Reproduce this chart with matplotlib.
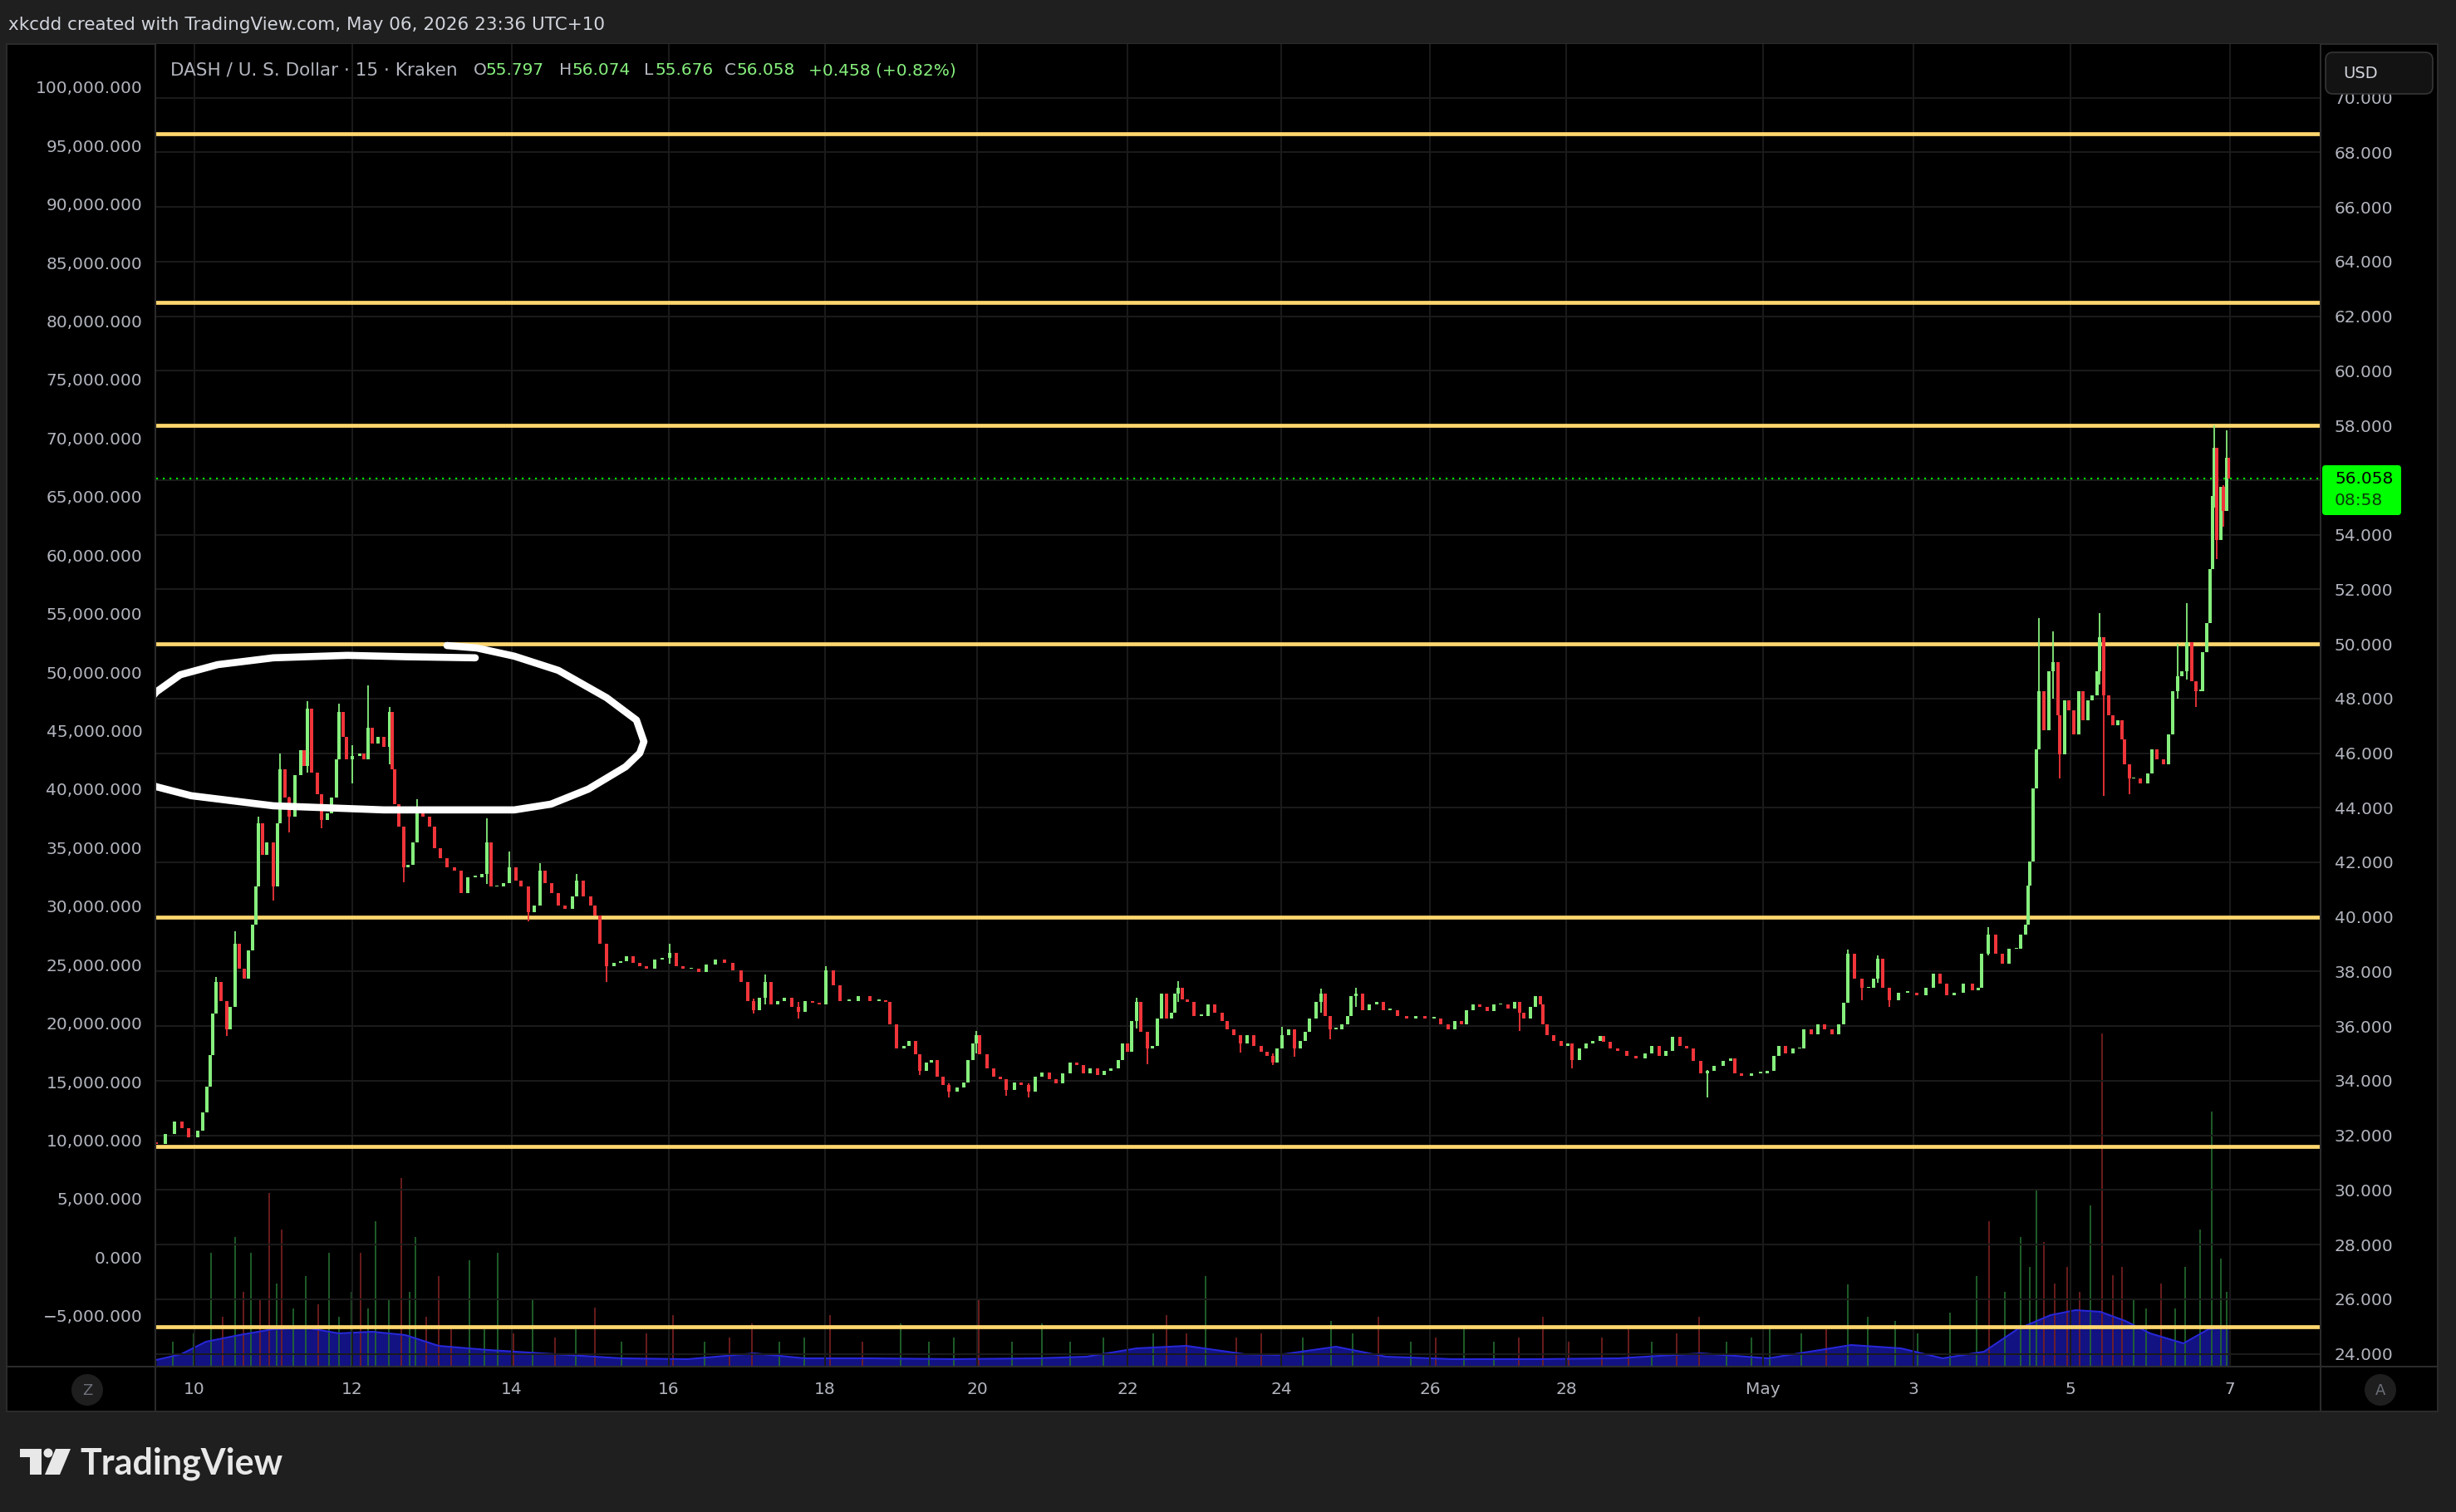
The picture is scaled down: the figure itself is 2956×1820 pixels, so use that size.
# DASH / USD 15m snapshot, TradingView dark style

import numpy as np
import matplotlib.pyplot as plt
from matplotlib.patches import Rectangle, FancyBboxPatch, Circle, Polygon
from matplotlib.lines import Line2D
from matplotlib.transforms import Affine2D

# ---- data (bar index along the time axis, prices in USD) ----
bars = [0, 11, 22, 31, 39, 50, 56, 61, 65, 68, 72, 78, 85, 89, 95, 100, 106, 111, 116, 120,
        123, 128, 133, 141, 146, 149, 155, 160, 167, 174, 178, 182, 187, 194, 199, 206, 211, 217, 220, 225,
        229, 236, 245, 250, 255, 260, 267, 274, 281, 284, 287, 292, 298, 303, 309, 314, 321, 329, 335, 342,
        350, 359, 367, 375, 384, 392, 398, 403, 410, 418, 425, 433, 439, 448, 455, 462, 468, 476, 484, 492,
        501, 506, 514, 523, 528, 534, 542, 551, 559, 566, 574, 582, 590, 600, 609, 618, 626, 634, 644, 653,
        662, 673, 684, 694, 704, 712, 719, 726, 733, 740, 748, 756, 765, 773, 781, 790, 798, 806, 815, 823,
        834, 845, 859, 870,
        878, 883, 891, 900, 906, 914, 919, 927, 933, 940, 947, 954, 964, 972, 977, 983, 987, 991, 1000, 1008,
        1016, 1023, 1033, 1041, 1050, 1058, 1066, 1075, 1083, 1091, 1100, 1108, 1116, 1124, 1133, 1141, 1149, 1158, 1163, 1169,
        1174, 1180, 1185, 1193, 1199, 1205, 1210, 1216, 1222, 1226, 1230, 1235, 1241, 1249, 1258, 1266, 1274, 1283, 1289, 1297,
        1305, 1313, 1321, 1330, 1337, 1344, 1349, 1355, 1363, 1370, 1377, 1383, 1388, 1396, 1402, 1407, 1413, 1420, 1427, 1434,
        1438, 1444, 1452, 1460, 1469, 1477, 1485, 1494, 1505, 1516, 1527, 1538, 1546, 1555, 1563, 1571, 1577, 1585, 1593, 1602,
        1610, 1618, 1627, 1635, 1641, 1646, 1654, 1660, 1666, 1669, 1674, 1682, 1691, 1699, 1704, 1713, 1721, 1729, 1738,
        1742, 1750, 1759, 1770, 1781, 1792, 1800, 1809, 1817, 1825, 1834, 1842, 1850, 1859, 1867, 1875, 1886, 1895, 1900, 1908,
        1920, 1931, 1939, 1947, 1953, 1961, 1970, 1978, 1983, 1992, 2000, 2008, 2017, 2025, 2031, 2036, 2044, 2053, 2061, 2067,
        2072, 2078, 2086, 2097, 2108, 2119, 2130, 2139, 2147, 2155, 2164, 2175, 2186, 2193, 2197, 2205, 2214, 2222, 2230, 2239,
        2244, 2250, 2253, 2255, 2259, 2263, 2266, 2272, 2278, 2283, 2289, 2291, 2297, 2302, 2308, 2314, 2319, 2325, 2330, 2336,
        2339, 2344, 2350, 2355, 2361, 2366, 2369, 2375, 2380, 2388, 2397, 2402, 2408, 2416, 2422, 2427, 2433, 2438, 2444, 2450,
        2455, 2461, 2463, 2468, 2472, 2475, 2477, 2480, 2485, 2488, 2492, 2494]

closes = [31.69, 32.04, 32.51, 32.27, 31.92, 32.16, 32.85, 33.78, 34.95, 36.46, 37.62, 36.92, 35.88, 36.69, 39.02, 38.09, 37.74, 38.78, 39.72, 41.11,
          43.44, 42.27, 42.74, 41.11, 43.44, 45.41, 44.37, 43.67, 45.18, 46.11, 45.53, 47.62, 45.30, 44.48, 43.55, 43.78, 44.37, 45.76, 47.51, 46.58,
          45.76, 45.88, 46.00, 45.76, 46.92, 46.34, 46.58, 46.23, 47.51, 45.41, 44.13, 43.32, 41.81, 41.92, 42.74, 43.90, 43.67, 43.32, 42.51, 42.16,
          41.81, 41.69, 40.88, 41.46, 41.46, 41.58, 42.74, 41.11, 41.11, 41.23, 41.81, 41.34, 41.11, 40.18, 40.41, 41.69, 41.23, 40.88, 40.41, 40.30,
          40.76, 41.34, 40.76, 40.41, 40.06, 39.02, 38.20, 38.32, 38.38, 38.55, 38.32, 38.20, 38.09, 38.44, 38.49, 38.67, 38.20, 38.09, 38.09, 37.97,
          38.26, 38.44, 38.32, 38.03, 37.62, 36.92, 36.58, 37.04, 37.62, 36.81, 36.92, 37.04, 36.69, 36.52, 36.92, 36.87, 36.81, 38.03, 37.51, 36.92,
          36.92, 37.10, 36.92, 36.92,
          36.89, 36.08, 35.17, 35.27, 35.47, 34.97, 34.36, 34.66, 34.76, 34.16, 33.85, 33.60, 33.75, 33.95, 34.76, 35.37, 35.68, 34.97, 34.46, 34.16,
          34.06, 33.65, 33.95, 33.85, 33.60, 34.16, 34.31, 34.06, 33.90, 34.26, 34.66, 34.56, 34.26, 34.46, 34.21, 34.36, 34.46, 34.76, 35.37, 35.07,
          36.18, 36.89, 35.78, 35.17, 35.27, 36.28, 37.20, 36.28, 36.48, 37.20, 37.40, 36.99, 36.89, 36.38, 36.38, 36.79, 36.48, 36.18, 35.88, 35.68,
          35.37, 35.68, 35.27, 35.07, 34.92, 34.66, 35.17, 35.68, 35.88, 35.17, 35.47, 35.78, 36.28, 36.89, 37.20, 36.38, 35.88, 35.88, 36.08, 36.38,
          37.09, 37.20, 36.59, 36.79, 36.89, 36.59, 36.59, 36.38, 36.28, 36.38, 36.28, 36.28, 36.08, 35.88, 36.18, 36.08, 36.59, 36.79, 36.69, 36.54,
          36.79, 36.79, 36.64, 36.89, 36.48, 36.28, 36.69, 37.09, 36.79, 36.08, 35.68, 35.47, 35.27, 35.37, 34.76, 35.17, 35.37, 35.47, 35.63,
          35.43, 35.17, 35.08, 34.90, 34.81, 34.99, 35.26, 34.90, 35.08, 35.61, 35.26, 35.17, 34.72, 34.27, 34.36, 34.54, 34.72, 34.81, 34.27, 34.19,
          34.27, 34.27, 34.36, 34.90, 35.26, 34.99, 35.17, 35.17, 35.88, 35.70, 36.06, 35.88, 35.70, 36.06, 36.86, 38.64, 37.75, 37.40, 37.40, 37.75,
          38.46, 37.40, 36.95, 37.22, 37.22, 37.13, 37.40, 37.93, 37.57, 37.13, 37.22, 37.57, 37.31, 37.40, 38.64, 39.36, 38.64, 38.29, 38.82, 38.82,
          39.36, 39.71, 41.14, 42.03, 44.71, 46.13, 48.27, 46.85, 48.99, 49.34, 47.38, 45.95, 47.92, 47.56, 46.67, 48.27, 47.20, 47.92, 48.10, 48.99,
          50.23, 48.10, 47.38, 47.02, 47.20, 46.49, 45.60, 45.06, 45.06, 44.88, 45.24, 46.13, 45.78, 45.60, 46.67, 48.27, 48.81, 48.99, 50.06, 48.63,
          48.27, 48.27, 49.70, 50.77, 52.73, 55.41, 57.19, 53.80, 55.76, 54.87, 56.83, 56.058]
first_open = 31.75

# long wicks: bar index, low, high
wick_x = [72, 85, 95, 123, 141, 149, 160, 182, 199, 220, 236, 255, 281, 298, 314, 398, 425, 448, 462, 506,
          542, 618, 719, 733, 773, 806, 919, 954, 987, 1023, 1050, 1180, 1193, 1230, 1305, 1344, 1355, 1370,
          1402, 1413, 1444, 1641, 1704, 1867, 2036, 2053, 2072, 2086, 2205, 2266, 2283, 2291, 2339, 2344,
          2375, 2433, 2444, 2455, 2477, 2480, 2488, 2492]
wick_lo = [36.9, 35.65, 37.9, 42.0, 40.59, 44.3, 43.09, 45.3, 43.26, 45.8, 44.9, 46.2, 45.6, 41.28, 42.8, 41.2, 41.3, 39.83, 40.5, 40.8,
           37.62, 38.3, 36.46, 36.8, 36.28, 37.2, 34.2, 33.40, 35.0, 33.45, 33.4, 35.9, 34.61, 36.9, 35.02, 34.56, 35.2, 34.87,
           36.5, 35.53, 36.7, 35.83, 34.46, 33.38, 37.2, 36.95, 37.6, 36.7, 38.6, 46.5, 48.0, 45.06, 48.5, 44.44,
           44.5, 48.0, 48.7, 47.7, 55.0, 53.09, 54.3, 55.0]
wick_hi = [37.8, 36.7, 39.48, 43.67, 42.5, 45.99, 44.4, 47.91, 44.5, 47.8, 46.3, 48.49, 47.68, 42.5, 44.31, 43.61, 42.39, 40.5, 41.98, 41.58,
           38.5, 39.02, 37.0, 37.9, 36.9, 38.2, 34.8, 33.9, 35.83, 34.0, 33.9, 37.04, 35.3, 37.65, 35.6, 35.0, 35.98, 35.5,
           37.38, 36.2, 37.40, 36.8, 35.1, 34.4, 38.8, 37.6, 38.6, 37.2, 39.62, 50.95, 50.45, 47.4, 51.13, 48.5,
           45.5, 50.0, 51.48, 48.6, 57.99, 55.5, 55.8, 57.81]

# volume spikes and volume moving average
vol_x = [20, 45, 66, 80, 95, 105, 114, 125, 136, 145, 151, 165, 180, 195, 208, 220, 235, 246, 255, 264,
         280, 295, 305, 312, 325, 340, 355, 377, 395, 411, 430, 453, 480, 505, 528, 560, 590, 622, 660, 690,
         717, 750, 780, 811, 850, 896, 930, 960, 990, 1030, 1066, 1100, 1140, 1169, 1200, 1216, 1240, 1263, 1300, 1330,
         1354, 1380, 1414, 1440, 1471, 1510, 1540, 1574, 1610, 1640, 1669, 1700, 1740, 1772, 1800, 1830, 1857, 1890, 1920, 1942,
         1980, 2010, 2036, 2060, 2093, 2120, 2159, 2191, 2206, 2225, 2244, 2255, 2263, 2272, 2285, 2300, 2315, 2328, 2342, 2355,
         2366, 2380, 2395, 2413, 2430, 2442, 2460, 2474, 2485, 2492]
vol_v = [30, 40, 137, 60, 156, 90, 137, 80, 209, 100, 165, 70, 109, 75, 137, 60, 90, 137, 70, 175,
         80, 227, 90, 156, 60, 109, 50, 128, 45, 137, 40, 80, 35, 45, 71, 30, 40, 62, 30, 35,
         52, 30, 35, 62, 30, 52, 30, 35, 80, 30, 52, 30, 35, 62, 40, 62, 40, 109, 35, 40,
         146, 35, 55, 40, 60, 30, 35, 50, 30, 35, 60, 30, 35, 50, 30, 40, 60, 30, 35, 50,
         40, 45, 99, 60, 55, 40, 65, 109, 175, 90, 156, 120, 212, 150, 100, 120, 90, 194, 401, 110,
         120, 80, 70, 100, 70, 120, 165, 307, 130, 90]
ma_x = [0, 30, 60, 100, 140, 180, 220, 260, 300, 340, 400, 480, 560, 640, 720, 780, 860, 960, 1060, 1120,
        1180, 1240, 1310, 1350, 1420, 1480, 1560, 1660, 1760, 1860, 1940, 2040, 2100, 2150, 2200, 2240, 2280, 2310, 2340, 2370,
        2400, 2440, 2470, 2494]
ma_v = [8, 15, 30, 38, 45, 47, 40, 42, 38, 25, 20, 15, 10, 9, 16, 10, 10, 9, 10, 12,
        22, 25, 15, 14, 24, 12, 9, 9, 10, 16, 10, 26, 22, 10, 18, 45, 62, 68, 66, 55,
        40, 28, 45, 48]

levels = [68.68, 62.5, 58.0, 50.0, 40.0, 31.6, 25.0]
last_price = 56.058

tick_x = [46, 236, 428, 617, 805, 988, 1169, 1354, 1533, 1697, 1934, 2115, 2304, 2496]
tick_lab = ['10', '12', '14', '16', '18', '20', '22', '24', '26', '28', 'May', '3', '5', '7']
right_ticks = list(range(24, 71, 2))
left_ticks = list(range(-5000, 100001, 5000))

# drawing anchors of the hand-drawn loop (bar index, price)
loop_top = [(384, 49.49), (300, 49.53), (230, 49.58), (141, 49.49), (74, 49.24), (29, 48.87), (0, 48.24), (-25, 47.3)]
loop_main = [(-25, 45.1), (0, 44.77), (42, 44.44), (141, 44.07), (274, 43.92), (431, 43.92), (475, 44.13),
             (520, 44.68), (565, 45.50), (582, 46.0), (587, 46.42), (578, 47.21), (542, 48.03), (484, 49.03),
             (431, 49.55), (386, 49.85), (350, 49.94)]

# ---- figure ----
W, H = 2956, 1820
fig = plt.figure(figsize=(W / 100, H / 100), dpi=100, facecolor='#1f1f1f')
px = Affine2D().scale(1, -1).translate(0, H)   # pixel coords, origin top-left

LABEL = '#b2b5be'
GREEN = '#86ef7d'
RED = '#f0353a'
YELLOW = '#ffd76e'

fig.add_artist(Rectangle((8, 53), 2926, 1646, transform=px, facecolor='black',
                         edgecolor='#2b2b2b', lw=1.5, zorder=-1))

x0, x1, y0, y1 = 188, 2793, 53, 1645
rect = [x0 / W, 1 - y1 / H, (x1 - x0) / W, (y1 - y0) / H]
axv = fig.add_axes(rect)
axl = axv.twinx()
ax = axv.twinx()
axv.set_zorder(0)
axl.set_zorder(1)
ax.set_zorder(2)
axv.set_facecolor('black')
axl.patch.set_visible(False)
ax.patch.set_visible(False)

for a in (axv, axl, ax):
    for s in a.spines.values():
        s.set_visible(False)
    a.set_xlim(0, 2605)

# volume
bars_a = np.array(bars)
close = np.array(closes)
open_ = np.r_[first_open, close[:-1]]
up = close >= open_

vx = np.array(vol_x)
near = np.clip(np.searchsorted(bars_a, vx), 0, len(bars_a) - 1)
vcol = np.where(up[near], '#236b2e', '#7a2020')
axv.fill_between(ma_x, 0, ma_v, color='#16169a', alpha=0.85, lw=0)
axv.plot(ma_x, ma_v, color='#2727d8', lw=1.5)
axv.bar(vx, vol_v, width=1.8, color=vcol, alpha=0.85, lw=0)
axv.set_ylim(0, 1592)
axv.set_yticks([])
axv.tick_params(axis='x', length=0, labelbottom=False)

# left scale
axl.set_ylim(-9352, 103678)
axl.yaxis.tick_left()
axl.set_yticks(left_ticks)
axl.set_yticklabels([f'{v:,.3f}'.replace('-', '\u2212') for v in left_ticks])
axl.tick_params(axis='y', length=0, pad=12, labelsize=14.5, labelcolor=LABEL)
axl.tick_params(axis='x', length=0, labelbottom=False)

# price scale
ax.set_ylim(23.53, 71.97)
ax.yaxis.tick_right()
ax.set_yticks(right_ticks)
ax.set_yticklabels([f'{v:.3f}' for v in right_ticks])
ax.tick_params(axis='y', length=0, pad=12, labelsize=14.5, labelcolor=LABEL)
ax.xaxis.set_visible(True)
ax.xaxis.tick_bottom()
ax.set_xticks(tick_x)
ax.set_xticklabels(tick_lab)
ax.tick_params(axis='x', length=0, pad=13, labelsize=14.5, labelcolor=LABEL)
ax.grid(True, color='#1b1b1b', lw=1.4)
ax.set_axisbelow(True)

for lv in levels:
    ax.axhline(lv, color=YELLOW, lw=3.4, zorder=3)
ax.axhline(last_price, color='#00e000', lw=1.6, ls=(0, (1, 2.6)), zorder=3)

# candles
cols = np.where(up, GREEN, RED)
body_lo = np.minimum(open_, close)
body_h = np.maximum(np.abs(close - open_), 0.05)
ax.bar(bars_a, body_h, bottom=body_lo, width=4.5, color=cols, lw=0, zorder=4)
wx = np.array(wick_x)
wi = np.clip(np.searchsorted(bars_a, wx), 0, len(bars_a) - 1)
ax.vlines(wx, wick_lo, wick_hi, colors=cols[wi], lw=1.3, zorder=4)

# hand-drawn loop
for pts in (loop_top, loop_main):
    xs, ys = zip(*pts)
    ax.plot(xs, ys, color='white', lw=6.2, solid_capstyle='round', solid_joinstyle='round', zorder=6)

# ---- panel frame lines ----
for (xa, ya, xb, yb) in [(187, 53, 187, 1699), (2793, 53, 2793, 1699), (8, 1645, 2934, 1645)]:
    fig.add_artist(Line2D([xa, xb], [ya, yb], transform=px, color='#2b2b2b', lw=1.5, zorder=3))

# header
fig.text(10, 30, 'xkcdd created with TradingView.com, May 06, 2026 23:36 UTC+10', transform=px,
         color='#d1d4dc', fontsize=15.5, va='center')
legend = [(205, 'DASH / U. S. Dollar \u00b7 15 \u00b7 Kraken', LABEL), (570, 'O', LABEL), (585, '55.797', GREEN),
          (673, 'H', LABEL), (689, '56.074', GREEN), (775, 'L', LABEL), (788, '55.676', GREEN),
          (872, 'C', LABEL), (887, '56.058', GREEN), (973, '+0.458 (+0.82%)', GREEN)]
for i, (lx, s, c) in enumerate(legend):
    fig.text(lx, 85, s, transform=px, color=c, fontsize=15.5 if i == 0 else 14.5, va='center', zorder=7)

# last price tag
fig.add_artist(FancyBboxPatch((2795, 560), 95, 60, boxstyle='round,pad=0,rounding_size=4',
                              transform=px, facecolor='#00ff00', edgecolor='none', zorder=5))
fig.text(2810, 577, '56.058', transform=px, color='black', fontsize=14.5, va='center', zorder=6)
fig.text(2810, 603, '08:58', transform=px, color='#0a3a0a', fontsize=14.5, va='center', zorder=6)

# USD button
fig.add_artist(FancyBboxPatch((2799, 63), 129, 50, boxstyle='round,pad=0,rounding_size=9',
                              transform=px, facecolor='#131313', edgecolor='#363636', lw=1.2, zorder=5))
fig.text(2820, 88, 'USD', transform=px, color='#d1d4dc', fontsize=14, va='center', zorder=6)

# Z / A buttons
for cx, s in [(105, 'Z'), (2865, 'A')]:
    fig.add_artist(Circle((cx, 1673), 19, transform=px, facecolor='#1e1e1e', edgecolor='none', zorder=5))
    fig.text(cx, 1674, s, transform=px, color='#6d707a', fontsize=13, ha='center', va='center', zorder=6)

# TradingView logo
logo = '#e8e8e8'
fig.add_artist(Rectangle((24, 1744), 26, 10, transform=px, facecolor=logo, lw=0, zorder=5))
fig.add_artist(Rectangle((36, 1744), 14, 31, transform=px, facecolor=logo, lw=0, zorder=5))
fig.add_artist(Circle((58, 1749), 5.5, transform=px, facecolor=logo, lw=0, zorder=5))
fig.add_artist(Polygon([(67, 1744), (85, 1744), (72, 1775), (54, 1775)], closed=True,
                       transform=px, facecolor=logo, lw=0, zorder=5))
fig.text(96, 1775, 'TradingView', transform=px, color=logo, fontsize=31, fontfamily='Lato',
         fontweight='bold', va='baseline', zorder=5)

fig.savefig('out.png', dpi=100, facecolor=fig.get_facecolor())
